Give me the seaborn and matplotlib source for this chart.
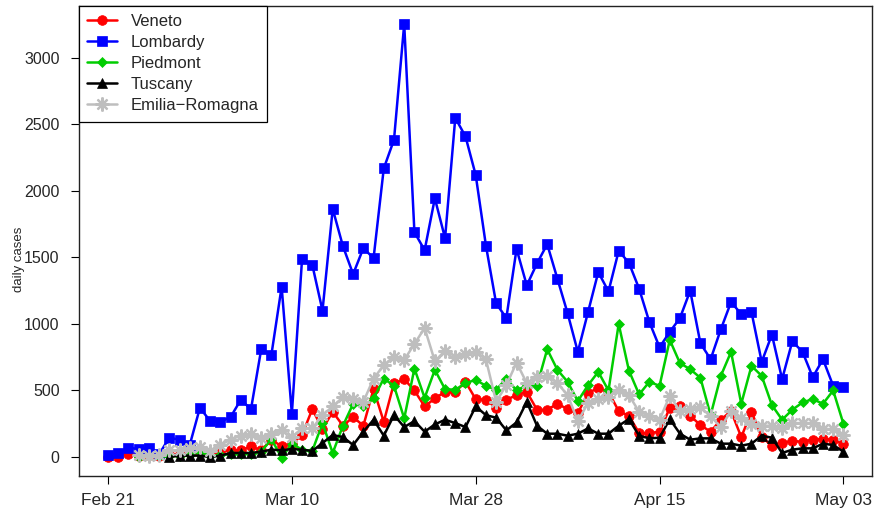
import numpy as np
import pandas as pd
import matplotlib
matplotlib.use("Agg")
import matplotlib.pyplot as plt
import seaborn as sns

nan = np.nan
dates = pd.date_range("2020-02-21", "2020-05-03", freq="D")
tick_labels = ["Feb 21", "Mar 10", "Mar 28", "Apr 15", "May 03"]

veneto = [0, 0, 25, 10, 15, 10, 20, 20, 30, 40, 30, 40, 50, 50, 80, 50, 130, 80, 100, 165,
          360, 210, 340, 235, 300, 235, 510, 265, 555, 585, 500, 380, 440, 490, 490, 565, 435, 430, 370, 430,
          465, 490, 355, 355, 400, 360, 330, 480, 520, 490, 345, 310, 180, 180, 190, 370, 380, 310, 240, 190,
          280, 345, 150, 340, 150, 85, 105, 120, 115, 130, 135, 130, 100]
lombardy = [15, 30, 70, 60, 70, 20, 145, 130, 90, 370, 270, 265, 300, 430, 360, 810, 770, 1280, 325, 1490,
            1445, 1100, 1865, 1585, 1375, 1570, 1495, 2170, 2385, 3255, 1690, 1555, 1945, 1645, 2550, 2410, 2120, 1590, 1155, 1045,
            1565, 1290, 1455, 1600, 1340, 1080, 790, 1090, 1390, 1245, 1550, 1460, 1265, 1015, 825, 940, 1045, 1250, 855, 735,
            960, 1165, 1075, 1090, 715, 920, 585, 870, 790, 600, 735, 535, 525]
piedmont = [nan, nan, nan, 0, 5, 5, 5, 10, 15, 40, 10, 15, 20, 20, 25, 40, 135, -5, 100, 55,
            45, 255, 30, 235, 400, 380, 440, 590, 535, 290, 665, 445, 655, 510, 505, 555, 580, 535, 505, 590,
            500, 540, 535, 810, 655, 565, 420, 540, 640, 500, 1000, 650, 470, 565, 535, 880, 705, 660, 595, 315,
            610, 790, 400, 685, 610, 390, 280, 355, 410, 435, 400, 500, 250]
tuscany = [nan, nan, nan, nan, nan, nan, 0, 10, 10, 10, 0, 10, 30, 30, 30, 40, 55, 50, 60, 55,
           45, 105, 165, 150, 90, 190, 280, 160, 315, 225, 270, 190, 245, 280, 255, 225, 380, 315, 295, 200,
           260, 415, 235, 175, 175, 160, 175, 215, 175, 175, 235, 285, 160, 140, 145, 285, 175, 130, 140, 140,
           100, 100, 85, 100, 160, 145, 30, 55, 65, 65, 100, 90, 40]
emilia = [nan, nan, nan, 15, 5, 15, 50, 50, 65, 75, 45, 90, 130, 160, 170, 140, 170, 200, 150, 215,
          215, 315, 380, 450, 435, 415, 590, 690, 755, 730, 850, 970, 720, 800, 755, 775, 790, 735, 415, 540,
          710, 555, 600, 610, 555, 465, 270, 405, 435, 450, 505, 465, 340, 310, 280, 460, 345, 360, 375, 305,
          225, 345, 290, 250, 235, 235, 215, 255, 255, 255, 210, 210, 165]

regions = ["Veneto", "Lombardy", "Piedmont", "Tuscany", "Emilia\u2212Romagna"]
series = [veneto, lombardy, piedmont, tuscany, emilia]
colors = ["#FF0000", "#0000FF", "#00CD00", "#000000", "#BEBEBE"]
markers = ["o", "s", "D", "^", (8, 2, 0)]
msizes = [7, 7, 5, 7, 10]

day = np.arange(len(dates))
df = pd.DataFrame({"day": day})
for name, vals in zip(regions, series):
    df[name] = vals

sns.set_style("white")
plt.rcParams["font.family"] = ["Liberation Sans", "DejaVu Sans"]

fig = plt.figure(figsize=(8.8, 5.12), dpi=100)
ax = fig.add_axes([79 / 880, 1 - 476 / 512, (872 - 79) / 880, (476 - 6) / 512])

for name, c, m, ms in zip(regions, colors, markers, msizes):
    sns.lineplot(data=df, x="day", y=name, ax=ax, color=c, marker=m, markersize=ms,
                 markeredgecolor=c, markeredgewidth=1.6 if m == (8, 2, 0) else 0.5,
                 linewidth=1.8, label=name, estimator=None)

ax.set_xlim(-2.84, 74.8)
ax.set_ylim(-143, 3391)
tick_pos = [0, 18, 36, 54, 72]
ax.set_xticks(tick_pos)
ax.set_xticklabels(tick_labels, fontsize=12.5)
ax.set_yticks([0, 500, 1000, 1500, 2000, 2500, 3000])
ax.set_yticklabels(["0", "500", "1000", "1500", "2000", "2500", "3000"], fontsize=11.5)
ax.tick_params(axis="both", direction="out", length=6, width=0.8, color="black", bottom=True, left=True)
ax.tick_params(axis="x", pad=6)
ax.tick_params(axis="y", pad=8)
ax.set_xlabel("")
ax.set_ylabel("daily cases", fontsize=9.5)
ax.yaxis.set_label_coords(-0.068, 0.46)
for s in ax.spines.values():
    s.set_visible(True)
    s.set_color("#222222")
    s.set_linewidth(1.0)

leg = ax.legend(loc="upper left", frameon=True, fancybox=False, borderaxespad=0.0,
                fontsize=12, handlelength=1.8, labelspacing=0.36, borderpad=0.5,
                handletextpad=0.8)
leg.get_frame().set_edgecolor("black")
leg.get_frame().set_linewidth(0.9)
leg.get_frame().set_alpha(1.0)

fig.savefig("out.png", dpi=100)
